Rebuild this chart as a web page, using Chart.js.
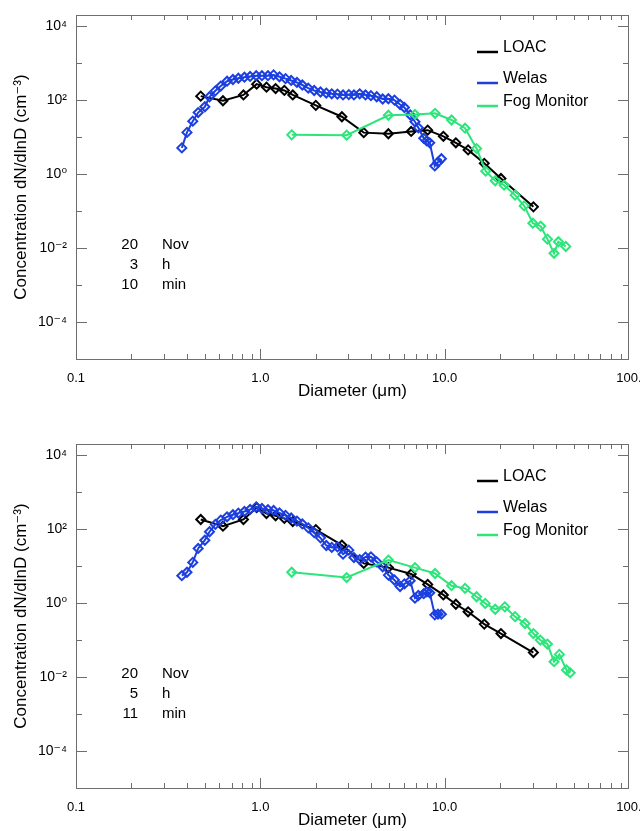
<!DOCTYPE html>
<html>
<head>
<meta charset="utf-8">
<script src="https://cdn.jsdelivr.net/npm/chart.js@4.4.1/dist/chart.umd.min.js"></script>
<style>
html,body{margin:0;padding:0;background:#fff;}
#wrap{position:relative;width:640px;height:831px;}
.panel{position:absolute;left:0;width:640px;height:402px;}
#p1{top:0;}
#p2{top:429px;}
</style>
</head>
<body>
<div id="wrap">
  <div class="panel" id="p1"><canvas id="c1"></canvas></div>
  <div class="panel" id="p2"><canvas id="c2"></canvas></div>
</div>
<script>
/* DATA */
const seriesNames=["LOAC","Welas","Fog Monitor"];

const loacSize=[0.475,0.627,0.81,0.955,1.08,1.21,1.35,1.50,2.0,2.77,3.64,4.95,6.58,8.09,9.84,11.5,13.4,16.4,20.2,30.3];
const loacTop=[128,96,138,270,224,205,183,138,72,35.5,13.2,12.3,14.2,15.4,10.5,7.0,4.5,1.95,0.76,0.13];
const loacBottom=[182,120,182,380,263,230,195,160,97,37,11.8,9.1,6.1,3.2,1.66,0.93,0.58,0.27,0.15,0.046];

const welasSize=[0.375,0.40,0.43,0.46,0.50,0.53,0.57,0.61,0.66,0.71,0.76,0.82,0.88,0.95,1.02,1.10,1.18,1.27,1.37,1.47,
  1.58,1.69,1.82,1.96,2.12,2.28,2.44,2.62,2.81,3.02,3.22,3.46,3.72,3.98,4.28,4.61,4.95,5.34,5.73,6.05,
  6.5,6.9,7.2,7.7,8.0,8.3,8.84,9.2,9.6];
const welasTop=[5.1,13.4,27,46,66,123,178,240,325,360,390,417,436,457,457,457,480,426,380,340,
  300,256,210,182,166,155,148,145,138,141,138,148,138,132,123,107,109,100,76,63,
  40,26,17.8,9.3,7.9,7.0,1.66,2.1,2.6];
const welasBottom=[5.5,6.8,12.6,30,50,85,134,175,215,245,270,300,340,400,360,335,320,275,235,200,
  165,138,108,80,58,36,32,33,21,27,17,15,17.5,17.8,13,9.6,5.7,4.2,2.8,3.3,
  4.0,1.36,1.6,1.8,2.0,1.9,0.48,0.5,0.5];

const fogSizeTop=[1.48,2.94,4.95,6.9,8.87,10.9,12.9,14.9,16.7,18.8,21.0,24.1,27.0,30.1,33.2,36.1,39.2,41.4,45.4];
const fogTop=[11.5,11.3,39,41,44,29,17.4,4.9,1.2,0.66,0.5,0.27,0.138,0.047,0.039,0.0174,0.0072,0.0148,0.011];
const fogSizeBottom=[1.48,2.94,4.95,6.9,8.87,10.9,12.9,14.9,16.6,18.8,21.2,24.1,27.3,30.3,33.0,36.1,39.2,41.9,45.8,48];
const fogBottom=[6.8,4.9,14.5,9.1,6.3,2.95,2.5,1.48,0.98,0.68,0.79,0.43,0.28,0.15,0.1,0.078,0.026,0.041,0.0155,0.013];

const xTickVals=[0.1,1,10,100];
const xTickLabels=["0.1","1.0","10.0","100."];
const yTickVals=[1e-4,1e-2,1,1e2,1e4];
const yTickLabels=["10\u207B\u2074","10\u207B\u00B2","10\u2070","10\u00B2","10\u2074"];

const stampTop=[["20","Nov"],["3","h"],["10","min"]];
const stampBottom=[["20","Nov"],["5","h"],["11","min"]];

/* STYLE */
const colors=["#000000","#1c3fe0","#2de57a"];
const FONT="'Liberation Sans', Arial, 'DejaVu Sans', sans-serif";
const axisGrey="#6e6e6e";

/* box, inward ticks, legend and date stamp */
const decor={
  id:"decor",
  afterDraw(chart,args,opts){
    const ctx=chart.ctx, a=chart.chartArea, x=chart.scales.x, y=chart.scales.y;
    ctx.save();
    ctx.strokeStyle=axisGrey;
    ctx.lineWidth=1;
    ctx.strokeRect(Math.round(a.left)+0.5,Math.round(a.top)+0.5,Math.round(a.width)-1,Math.round(a.height));
    ctx.beginPath();
    for(let e=-1;e<=2;e++){
      for(let m=1;m<10;m++){
        const v=m*Math.pow(10,e);
        if(v<=0.1||v>=100) continue;
        const px=Math.round(x.getPixelForValue(v))+0.5;
        const len=(m===1)?10:5;
        ctx.moveTo(px,a.bottom); ctx.lineTo(px,a.bottom-len);
        ctx.moveTo(px,a.top); ctx.lineTo(px,a.top+len);
      }
    }
    for(let e=-4;e<=4;e++){
      const py=Math.round(y.getPixelForValue(Math.pow(10,e)))+0.5;
      const len=(e%2===0)?11:6;
      ctx.moveTo(a.left,py); ctx.lineTo(a.left+len,py);
      ctx.moveTo(a.right,py); ctx.lineTo(a.right-len,py);
    }
    ctx.stroke();

    // legend
    const rows=[33,64,87];
    ctx.font="16px "+FONT;
    ctx.textBaseline="middle";
    ctx.textAlign="left";
    chart.data.datasets.forEach((ds,i)=>{
      const ty=a.top+rows[i];
      ctx.strokeStyle=ds.borderColor;
      ctx.lineWidth=2.5;
      ctx.beginPath();
      ctx.moveTo(477,ty+4); ctx.lineTo(498,ty+4);
      ctx.stroke();
      ctx.fillStyle="#000";
      ctx.fillText(ds.label,503,ty);
    });

    // date stamp
    ctx.font="15px "+FONT;
    opts.stamp.forEach((r,i)=>{
      const ty=a.top+230+i*20;
      ctx.textAlign="right";
      ctx.fillText(r[0],138,ty);
      ctx.textAlign="left";
      ctx.fillText(r[1],162,ty);
    });
    ctx.restore();
  }
};

function pts(xs,ys){ return xs.map((d,i)=>({x:d,y:ys[i]})); }

function makePanel(id,loac,welas,fogSize,fog,stamp){
  const sets=[pts(loacSize,loac),pts(welasSize,welas),pts(fogSize,fog)];
  new Chart(document.getElementById(id),{
    type:"line",
    data:{
      datasets:sets.map((d,i)=>({
        label:seriesNames[i],
        data:d,
        borderColor:colors[i],
        pointBorderColor:colors[i],
        pointBackgroundColor:"rgba(0,0,0,0)",
        pointStyle:"rectRot",
        pointRadius:4.5,
        pointBorderWidth:2,
        borderWidth:2,
        tension:0,
        order:3-i
      }))
    },
    options:{
      responsive:true,
      maintainAspectRatio:false,
      animation:false,
      layout:{padding:{top:15,right:11,left:0,bottom:0}},
      plugins:{legend:{display:false},tooltip:{enabled:false},decor:{stamp:stamp}},
      scales:{
        x:{
          type:"logarithmic",min:0.1,max:100,
          grid:{display:false,drawTicks:false},
          border:{display:false},
          afterBuildTicks:s=>{s.ticks=xTickVals.map(v=>({value:v}));},
          afterFit:s=>{s.height=43;s.paddingLeft=0;s.paddingRight=0;},
          ticks:{color:"#000",font:{family:FONT,size:13},padding:12,maxRotation:0,autoSkip:false,
            callback:(v,i)=>xTickLabels[i]},
          title:{display:true,text:"Diameter (\u03BCm)",color:"#000",font:{family:FONT,size:17},padding:{top:0,bottom:0}}
        },
        y:{
          type:"logarithmic",min:1e-5,max:2e4,
          grid:{display:false,drawTicks:false},
          border:{display:false},
          afterBuildTicks:s=>{s.ticks=yTickVals.map(v=>({value:v}));},
          afterFit:s=>{s.width=76;s.paddingTop=0;s.paddingBottom=0;},
          ticks:{color:"#000",font:{family:FONT,size:14},padding:9,autoSkip:false,
            callback:(v,i)=>yTickLabels[i]},
          title:{display:true,text:"Concentration dN/dlnD (cm\u207B\u00B3)",color:"#000",font:{family:FONT,size:17},padding:{top:11,bottom:0}}
        }
      }
    },
    plugins:[decor]
  });
}

makePanel("c1",loacTop,welasTop,fogSizeTop,fogTop,stampTop);
makePanel("c2",loacBottom,welasBottom,fogSizeBottom,fogBottom,stampBottom);
</script>
</body>
</html>
